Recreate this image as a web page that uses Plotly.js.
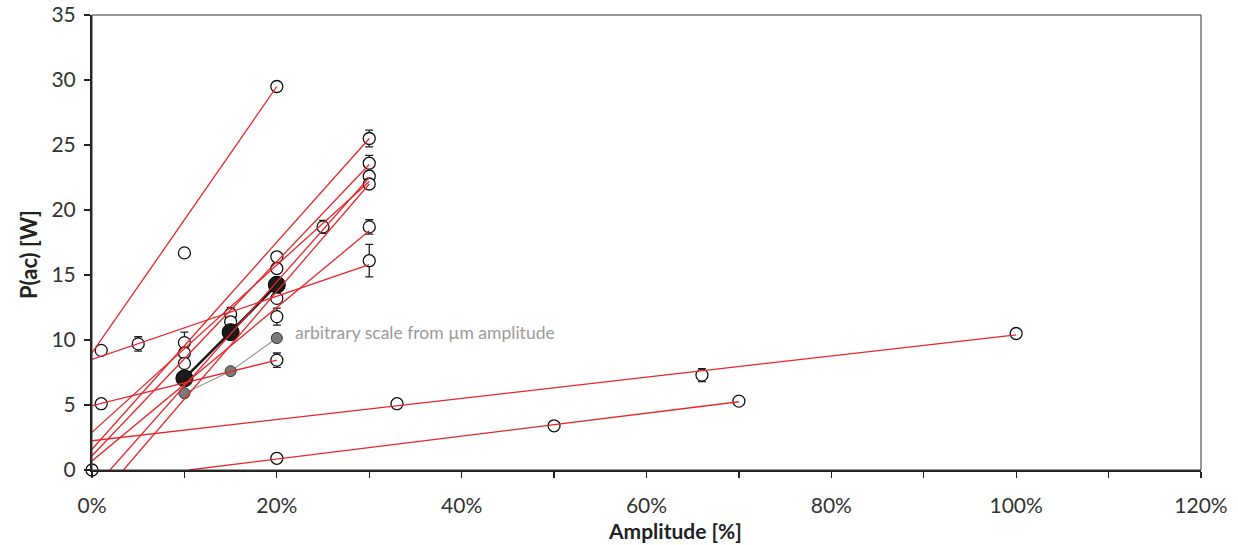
<!DOCTYPE html>
<html>
<head>
<meta charset="utf-8">
<script src="https://cdn.plot.ly/plotly-3.0.1.min.js"></script>
<style>html,body{margin:0;padding:0;background:#fff;}#chart{width:1238px;height:545px;}</style>
</head>
<body>
<div id="chart"></div>
<script>
// Individual measurements (open circles)
const pointX = [0, 1, 1, 5, 10, 10, 10, 10, 15, 15, 20, 20, 20, 20, 20, 20, 20, 25, 30, 30, 30, 30, 30, 30, 33, 50, 66, 70, 100];
const pointY = [0, 9.2, 5.1, 9.7, 16.7, 9.8, 9.0, 8.2, 12.0, 11.4, 29.5, 16.4, 15.5, 13.2, 11.8, 8.45, 0.9, 18.7, 25.5, 23.6, 22.6, 22.0, 18.7, 16.1, 5.1, 3.4, 7.3, 5.3, 10.5];
const pointErr = [0, 0, 0, 0.55, 0, 0.8, 0, 0, 0.5, 0, 0, 0, 0, 0, 0.65, 0.55, 0, 0.5, 0.65, 0.6, 0, 0, 0.55, 1.25, 0, 0, 0.5, 0, 0];

// Red fit lines: start and end points
const fitStartX = [0, 0, 0, 0, 10.5, 0, 0, 1.95, 0, 3.4, 0];
const fitStartY = [9.0, 8.5, 4.95, 2.25, 0, 1.6, 1.1, 0, 2.9, 0, 0.7];
const fitEndX = [20, 30, 20, 100, 70, 30, 30, 30, 30, 30, 30];
const fitEndY = [29.5, 15.8, 8.45, 10.4, 5.25, 25.5, 23.5, 22.5, 22.2, 22.0, 18.4];

// Mean values (black) and arbitrary scale from µm amplitude (grey)
const meanX = [10, 15, 20];
const meanY = [7.05, 10.6, 14.25];
const scaledX = [10, 15, 20];
const scaledY = [5.9, 7.6, 10.15];

const xTickVals = [0, 20, 40, 60, 80, 100, 120];
const xTickText = ['0%', '20%', '40%', '60%', '80%', '100%', '120%'];
const noteText = 'arbitrary scale from µm amplitude';
const xTitle = 'Amplitude [%]';
const yTitle = 'P(ac) [W]';

const FONT = 'Lato, "Open Sans", "DejaVu Sans", sans-serif';
const RED = '#e8262a';

const errX = [], errY = [], errV = [];
pointErr.forEach((e, i) => { if (e > 0) { errX.push(pointX[i]); errY.push(pointY[i]); errV.push(e); } });

const traces = [];
// error bars (drawn under the white-filled circles)
traces.push({
  x: errX, y: errY, mode: 'markers', type: 'scatter', cliponaxis: false,
  marker: {size: 1, color: 'rgba(0,0,0,0)'},
  error_y: {type: 'data', array: errV, visible: true, color: '#222', thickness: 1.3, width: 4},
  hoverinfo: 'skip', showlegend: false
});
traces.push({
  x: pointX, y: pointY, mode: 'markers', type: 'scatter', cliponaxis: false,
  marker: {symbol: 'circle', size: 12, color: '#fff', line: {color: '#111', width: 1.3}},
  showlegend: false
});
traces.push({
  x: scaledX, y: scaledY, mode: 'lines+markers', type: 'scatter',
  line: {color: '#9a9a9a', width: 1.2},
  marker: {size: 11, color: '#7a7a7a', line: {color: '#333', width: 1}},
  showlegend: false
});
traces.push({
  x: meanX, y: meanY, mode: 'lines+markers', type: 'scatter',
  line: {color: '#1a1a1a', width: 2.6},
  marker: {size: 17, color: '#1a1a1a', line: {color: '#000', width: 1}},
  showlegend: false
});
for (let i = 0; i < fitStartX.length; i++) {
  traces.push({
    x: [fitStartX[i], fitEndX[i]], y: [fitStartY[i], fitEndY[i]],
    mode: 'lines', type: 'scatter', line: {color: RED, width: 1.3},
    hoverinfo: 'skip', showlegend: false
  });
}

const layout = {
  width: 1238, height: 545,
  margin: {l: 92, r: 37, t: 15, b: 75},
  paper_bgcolor: '#fff', plot_bgcolor: '#fff',
  font: {family: FONT, size: 20, color: '#333'},
  showlegend: false,
  xaxis: {
    range: [0, 120], tickvals: xTickVals, ticktext: xTickText,
    ticks: 'outside', ticklen: 6, tickwidth: 1.3, tickcolor: '#222',
    ticklabelstandoff: 10,
    minor: {dtick: 10, tick0: 0, ticks: 'outside', ticklen: 6, tickwidth: 1.3, tickcolor: '#222', showgrid: false},
    showgrid: false, zeroline: false,
    showline: true, linecolor: '#222', linewidth: 2,
    tickfont: {family: FONT, size: 21, color: '#333'}
  },
  yaxis: {
    range: [0, 35], dtick: 5, tick0: 0,
    ticks: 'outside', ticklen: 6, tickwidth: 1.3, tickcolor: '#222',
    ticklabelstandoff: 4,
    showgrid: false, zeroline: false,
    showline: true, linecolor: '#222', linewidth: 2,
    tickfont: {family: FONT, size: 21, color: '#333'}
  },
  shapes: [{type: 'rect', xref: 'paper', yref: 'paper', x0: 0, x1: 1, y0: 0, y1: 1, line: {color: '#333', width: 1}}],
  annotations: [
    {x: 21.8, y: 10.6, xref: 'x', yref: 'y', xanchor: 'left', yanchor: 'middle',
     text: noteText, showarrow: false, font: {family: FONT, size: 17.5, color: '#9a9a9a'}},
    {x: 0.5257, y: -0.1335, xref: 'paper', yref: 'paper', xanchor: 'center', yanchor: 'middle',
     text: '<b>' + xTitle + '</b>', showarrow: false, font: {family: FONT, size: 21, color: '#222'}},
    {x: -0.0577, y: 0.4725, xref: 'paper', yref: 'paper', xanchor: 'center', yanchor: 'middle', textangle: -90,
     text: '<b>' + yTitle + '</b>', showarrow: false, font: {family: FONT, size: 22, color: '#222'}}
  ]
};

Plotly.newPlot('chart', traces, layout, {displayModeBar: false, staticPlot: true});
</script>
</body>
</html>
